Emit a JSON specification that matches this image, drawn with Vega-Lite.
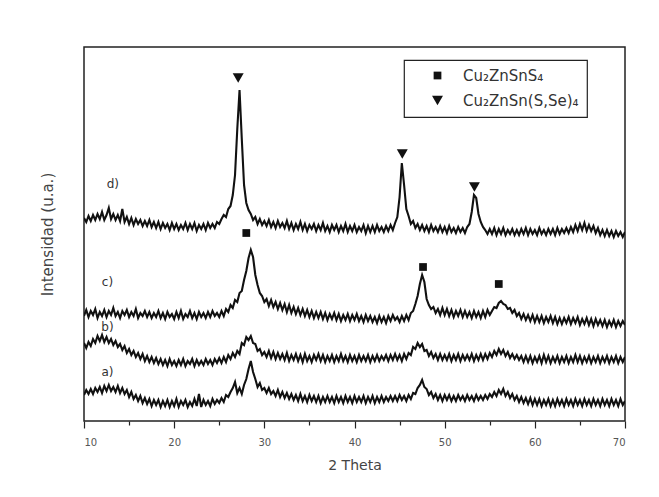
{
  "$schema": "https://vega.github.io/schema/vega-lite/v6.json",
  "width": 541,
  "height": 374,
  "autosize": {"type": "none"},
  "padding": {"left": 84, "top": 47, "right": 34, "bottom": 76},
  "background": "white",
  "datasets": {
    "xrd": [
      {"x":10,"a":26,"b":78,"c":105,"d":203},{"x":10.25,"a":31,"b":73,"c":111,"d":199},{"x":10.5,"a":27,"b":79,"c":104,"d":205},{"x":10.75,"a":32,"b":75,"c":110,"d":200},
      {"x":11,"a":27,"b":82,"c":106,"d":206},{"x":11.25,"a":33,"b":78,"c":112,"d":201},{"x":11.5,"a":29,"b":85,"c":103,"d":207},{"x":11.75,"a":34,"b":80,"c":109,"d":202},
      {"x":12,"a":28,"b":86,"c":105,"d":209},{"x":12.25,"a":35,"b":79,"c":111,"d":201},{"x":12.5,"a":30,"b":84,"c":104,"d":206},{"x":12.75,"a":36,"b":78,"c":110,"d":213},
      {"x":13,"a":30,"b":82,"c":106,"d":202},{"x":13.25,"a":34,"b":76,"c":113,"d":207},{"x":13.5,"a":29,"b":80,"c":105,"d":201},{"x":13.75,"a":35,"b":74,"c":109,"d":206},
      {"x":14,"a":28,"b":77,"c":103,"d":200},{"x":14.25,"a":33,"b":71,"c":110,"d":212},{"x":14.5,"a":27,"b":75,"c":106,"d":199},{"x":14.75,"a":31,"b":68,"c":111,"d":204},
      {"x":15,"a":24,"b":72,"c":104,"d":197},{"x":15.25,"a":29,"b":66,"c":109,"d":203},{"x":15.5,"a":22,"b":70,"c":105,"d":196},{"x":15.75,"a":26,"b":64,"c":112,"d":202},
      {"x":16,"a":20,"b":68,"c":103,"d":197},{"x":16.25,"a":25,"b":62,"c":108,"d":201},{"x":16.5,"a":18,"b":67,"c":105,"d":195},{"x":16.75,"a":23,"b":60,"c":110,"d":200},
      {"x":17,"a":17,"b":65,"c":104,"d":195},{"x":17.25,"a":22,"b":59,"c":109,"d":201},{"x":17.5,"a":15,"b":64,"c":103,"d":194},{"x":17.75,"a":21,"b":58,"c":108,"d":199},
      {"x":18,"a":16,"b":63,"c":104,"d":193},{"x":18.25,"a":21,"b":57,"c":110,"d":199},{"x":18.5,"a":14,"b":62,"c":103,"d":192},{"x":18.75,"a":20,"b":56,"c":108,"d":198},
      {"x":19,"a":15,"b":61,"c":102,"d":193},{"x":19.25,"a":21,"b":55,"c":109,"d":197},{"x":19.5,"a":14,"b":62,"c":104,"d":191},{"x":19.75,"a":20,"b":56,"c":107,"d":198},
      {"x":20,"a":15,"b":60,"c":102,"d":192},{"x":20.25,"a":22,"b":55,"c":109,"d":197},{"x":20.5,"a":14,"b":61,"c":103,"d":191},{"x":20.75,"a":20,"b":56,"c":110,"d":196},
      {"x":21,"a":16,"b":62,"c":102,"d":192},{"x":21.25,"a":21,"b":55,"c":107,"d":198},{"x":21.5,"a":14,"b":60,"c":104,"d":191},{"x":21.75,"a":19,"b":57,"c":110,"d":197},
      {"x":22,"a":15,"b":62,"c":103,"d":192},{"x":22.25,"a":22,"b":55,"c":108,"d":198},{"x":22.5,"a":15,"b":61,"c":102,"d":190},{"x":22.75,"a":27,"b":56,"c":109,"d":196},
      {"x":23,"a":14,"b":60,"c":104,"d":192},{"x":23.25,"a":21,"b":56,"c":108,"d":197},{"x":23.5,"a":16,"b":62,"c":103,"d":191},{"x":23.75,"a":20,"b":57,"c":109,"d":198},
      {"x":24,"a":15,"b":61,"c":104,"d":193},{"x":24.25,"a":22,"b":56,"c":110,"d":197},{"x":24.5,"a":17,"b":62,"c":105,"d":193},{"x":24.75,"a":21,"b":58,"c":108,"d":199},
      {"x":25,"a":18,"b":63,"c":104,"d":197},{"x":25.25,"a":23,"b":58,"c":110,"d":202},{"x":25.5,"a":19,"b":64,"c":105,"d":206},{"x":25.75,"a":26,"b":59,"c":112,"d":204},
      {"x":26,"a":24,"b":66,"c":109,"d":212},{"x":26.25,"a":29,"b":62,"c":116,"d":215},{"x":26.5,"a":33,"b":68,"c":113,"d":226},{"x":26.75,"a":39,"b":64,"c":121,"d":246},
      {"x":27,"a":28,"b":70,"c":119,"d":292},{"x":27.25,"a":33,"b":67,"c":128,"d":331},{"x":27.5,"a":27,"b":78,"c":130,"d":282},{"x":27.75,"a":36,"b":76,"c":141,"d":236},
      {"x":28,"a":42,"b":84,"c":150,"d":218},{"x":28.25,"a":52,"b":81,"c":163,"d":211},{"x":28.5,"a":60,"b":85,"c":171,"d":207},{"x":28.75,"a":49,"b":78,"c":164,"d":201},
      {"x":29,"a":42,"b":77,"c":146,"d":204},{"x":29.25,"a":34,"b":70,"c":136,"d":197},{"x":29.5,"a":38,"b":72,"c":128,"d":202},{"x":29.75,"a":31,"b":66,"c":125,"d":196},
      {"x":30,"a":33,"b":69,"c":119,"d":200},{"x":30.25,"a":28,"b":64,"c":122,"d":195},{"x":30.5,"a":33,"b":70,"c":115,"d":201},{"x":30.75,"a":27,"b":63,"c":121,"d":194},
      {"x":31,"a":30,"b":69,"c":114,"d":199},{"x":31.25,"a":25,"b":62,"c":119,"d":193},{"x":31.5,"a":31,"b":68,"c":112,"d":200},{"x":31.75,"a":24,"b":62,"c":118,"d":194},
      {"x":32,"a":29,"b":67,"c":111,"d":198},{"x":32.25,"a":23,"b":61,"c":117,"d":193},{"x":32.5,"a":28,"b":68,"c":109,"d":200},{"x":32.75,"a":22,"b":60,"c":116,"d":192},
      {"x":33,"a":27,"b":66,"c":108,"d":198},{"x":33.25,"a":21,"b":61,"c":114,"d":191},{"x":33.5,"a":26,"b":67,"c":107,"d":197},{"x":33.75,"a":20,"b":60,"c":113,"d":192},
      {"x":34,"a":27,"b":66,"c":106,"d":199},{"x":34.25,"a":20,"b":59,"c":112,"d":191},{"x":34.5,"a":25,"b":67,"c":105,"d":197},{"x":34.75,"a":19,"b":60,"c":111,"d":190},
      {"x":35,"a":26,"b":65,"c":104,"d":196},{"x":35.25,"a":20,"b":59,"c":110,"d":192},{"x":35.5,"a":25,"b":66,"c":103,"d":197},{"x":35.75,"a":19,"b":61,"c":109,"d":190},
      {"x":36,"a":25,"b":67,"c":103,"d":196},{"x":36.25,"a":18,"b":60,"c":109,"d":191},{"x":36.5,"a":24,"b":66,"c":102,"d":198},{"x":36.75,"a":19,"b":59,"c":108,"d":190},
      {"x":37,"a":25,"b":65,"c":101,"d":195},{"x":37.25,"a":19,"b":60,"c":107,"d":189},{"x":37.5,"a":24,"b":66,"c":102,"d":196},{"x":37.75,"a":18,"b":59,"c":108,"d":191},
      {"x":38,"a":25,"b":65,"c":101,"d":196},{"x":38.25,"a":19,"b":60,"c":107,"d":189},{"x":38.5,"a":24,"b":67,"c":100,"d":195},{"x":38.75,"a":18,"b":60,"c":106,"d":190},
      {"x":39,"a":25,"b":65,"c":101,"d":197},{"x":39.25,"a":19,"b":59,"c":107,"d":189},{"x":39.5,"a":24,"b":66,"c":100,"d":195},{"x":39.75,"a":18,"b":60,"c":106,"d":190},
      {"x":40,"a":25,"b":65,"c":101,"d":196},{"x":40.25,"a":19,"b":59,"c":107,"d":189},{"x":40.5,"a":24,"b":66,"c":100,"d":194},{"x":40.75,"a":19,"b":60,"c":105,"d":190},
      {"x":41,"a":25,"b":65,"c":99,"d":196},{"x":41.25,"a":18,"b":60,"c":106,"d":188},{"x":41.5,"a":24,"b":66,"c":100,"d":195},{"x":41.75,"a":19,"b":59,"c":105,"d":189},
      {"x":42,"a":25,"b":65,"c":99,"d":195},{"x":42.25,"a":18,"b":60,"c":104,"d":189},{"x":42.5,"a":24,"b":66,"c":98,"d":196},{"x":42.75,"a":19,"b":60,"c":105,"d":190},
      {"x":43,"a":25,"b":65,"c":99,"d":194},{"x":43.25,"a":19,"b":61,"c":104,"d":189},{"x":43.5,"a":24,"b":66,"c":98,"d":195},{"x":43.75,"a":20,"b":60,"c":105,"d":190},
      {"x":44,"a":25,"b":66,"c":100,"d":196},{"x":44.25,"a":20,"b":61,"c":106,"d":191},{"x":44.5,"a":25,"b":67,"c":101,"d":198},{"x":44.75,"a":20,"b":61,"c":104,"d":204},
      {"x":45,"a":26,"b":66,"c":99,"d":224},{"x":45.25,"a":21,"b":60,"c":105,"d":258},{"x":45.5,"a":25,"b":67,"c":100,"d":236},{"x":45.75,"a":20,"b":62,"c":106,"d":212},
      {"x":46,"a":26,"b":68,"c":101,"d":205},{"x":46.25,"a":22,"b":66,"c":108,"d":197},{"x":46.5,"a":28,"b":74,"c":110,"d":200},{"x":46.75,"a":27,"b":72,"c":117,"d":193},
      {"x":47,"a":33,"b":78,"c":125,"d":197},{"x":47.25,"a":36,"b":74,"c":137,"d":191},{"x":47.5,"a":41,"b":77,"c":146,"d":196},{"x":47.75,"a":34,"b":70,"c":139,"d":190},
      {"x":48,"a":32,"b":71,"c":122,"d":195},{"x":48.25,"a":26,"b":65,"c":116,"d":189},{"x":48.5,"a":29,"b":69,"c":112,"d":196},{"x":48.75,"a":23,"b":63,"c":114,"d":190},
      {"x":49,"a":27,"b":67,"c":108,"d":194},{"x":49.25,"a":21,"b":61,"c":112,"d":189},{"x":49.5,"a":26,"b":67,"c":106,"d":195},{"x":49.75,"a":20,"b":61,"c":113,"d":189},
      {"x":50,"a":26,"b":66,"c":106,"d":194},{"x":50.25,"a":21,"b":61,"c":112,"d":188},{"x":50.5,"a":26,"b":67,"c":105,"d":195},{"x":50.75,"a":20,"b":60,"c":111,"d":189},
      {"x":51,"a":25,"b":66,"c":104,"d":193},{"x":51.25,"a":20,"b":61,"c":110,"d":188},{"x":51.5,"a":26,"b":67,"c":105,"d":194},{"x":51.75,"a":21,"b":60,"c":111,"d":189},
      {"x":52,"a":25,"b":66,"c":104,"d":193},{"x":52.25,"a":20,"b":61,"c":110,"d":188},{"x":52.5,"a":26,"b":66,"c":104,"d":194},{"x":52.75,"a":21,"b":61,"c":109,"d":197},
      {"x":53,"a":25,"b":67,"c":103,"d":209},{"x":53.25,"a":20,"b":60,"c":110,"d":226},{"x":53.5,"a":26,"b":66,"c":104,"d":223},{"x":53.75,"a":21,"b":61,"c":109,"d":207},
      {"x":54,"a":25,"b":67,"c":103,"d":199},{"x":54.25,"a":21,"b":61,"c":110,"d":194},{"x":54.5,"a":26,"b":67,"c":104,"d":191},{"x":54.75,"a":22,"b":62,"c":111,"d":187},
      {"x":55,"a":27,"b":68,"c":106,"d":192},{"x":55.25,"a":24,"b":64,"c":110,"d":187},{"x":55.5,"a":29,"b":70,"c":114,"d":193},{"x":55.75,"a":25,"b":66,"c":113,"d":186},
      {"x":56,"a":31,"b":72,"c":118,"d":192},{"x":56.25,"a":27,"b":67,"c":120,"d":187},{"x":56.5,"a":32,"b":71,"c":117,"d":193},{"x":56.75,"a":25,"b":65,"c":116,"d":186},
      {"x":57,"a":29,"b":69,"c":112,"d":191},{"x":57.25,"a":23,"b":63,"c":113,"d":187},{"x":57.5,"a":27,"b":67,"c":108,"d":192},{"x":57.75,"a":21,"b":62,"c":111,"d":186},
      {"x":58,"a":25,"b":66,"c":105,"d":191},{"x":58.25,"a":19,"b":61,"c":108,"d":186},{"x":58.5,"a":24,"b":65,"c":102,"d":192},{"x":58.75,"a":18,"b":59,"c":107,"d":187},
      {"x":59,"a":23,"b":65,"c":101,"d":193},{"x":59.25,"a":17,"b":59,"c":106,"d":186},{"x":59.5,"a":23,"b":65,"c":100,"d":192},{"x":59.75,"a":16,"b":58,"c":106,"d":187},
      {"x":60,"a":22,"b":64,"c":99,"d":191},{"x":60.25,"a":16,"b":59,"c":105,"d":186},{"x":60.5,"a":22,"b":65,"c":99,"d":193},{"x":60.75,"a":15,"b":58,"c":105,"d":187},
      {"x":61,"a":21,"b":66,"c":98,"d":191},{"x":61.25,"a":16,"b":59,"c":104,"d":186},{"x":61.5,"a":22,"b":65,"c":99,"d":192},{"x":61.75,"a":15,"b":58,"c":105,"d":187},
      {"x":62,"a":21,"b":64,"c":98,"d":192},{"x":62.25,"a":15,"b":59,"c":104,"d":186},{"x":62.5,"a":22,"b":65,"c":97,"d":193},{"x":62.75,"a":16,"b":58,"c":103,"d":187},
      {"x":63,"a":21,"b":64,"c":97,"d":192},{"x":63.25,"a":15,"b":59,"c":103,"d":188},{"x":63.5,"a":22,"b":65,"c":98,"d":193},{"x":63.75,"a":16,"b":58,"c":104,"d":188},
      {"x":64,"a":21,"b":64,"c":97,"d":194},{"x":64.25,"a":15,"b":59,"c":103,"d":189},{"x":64.5,"a":22,"b":66,"c":98,"d":196},{"x":64.75,"a":16,"b":59,"c":104,"d":190},
      {"x":65,"a":21,"b":65,"c":96,"d":197},{"x":65.25,"a":15,"b":58,"c":102,"d":191},{"x":65.5,"a":22,"b":64,"c":97,"d":198},{"x":65.75,"a":16,"b":59,"c":103,"d":190},
      {"x":66,"a":21,"b":65,"c":96,"d":196},{"x":66.25,"a":15,"b":58,"c":102,"d":190},{"x":66.5,"a":22,"b":64,"c":95,"d":195},{"x":66.75,"a":16,"b":59,"c":102,"d":188},
      {"x":67,"a":21,"b":65,"c":96,"d":193},{"x":67.25,"a":15,"b":58,"c":101,"d":186},{"x":67.5,"a":22,"b":64,"c":95,"d":191},{"x":67.75,"a":16,"b":59,"c":101,"d":185},
      {"x":68,"a":21,"b":65,"c":94,"d":191},{"x":68.25,"a":15,"b":58,"c":100,"d":185},{"x":68.5,"a":22,"b":64,"c":95,"d":190},{"x":68.75,"a":16,"b":59,"c":101,"d":184},
      {"x":69,"a":21,"b":65,"c":94,"d":190},{"x":69.25,"a":15,"b":58,"c":100,"d":185},{"x":69.5,"a":22,"b":64,"c":95,"d":189},{"x":69.75,"a":16,"b":59,"c":100,"d":184},
      {"x":70,"a":20,"b":64,"c":96,"d":189}
    ],
    "peaks": [
      {"fase":"Cu₂ZnSnS₄","x":28.0,"y":188},
      {"fase":"Cu₂ZnSnS₄","x":47.6,"y":154},
      {"fase":"Cu₂ZnSnS₄","x":56.0,"y":137},
      {"fase":"Cu₂ZnSn(S,Se)₄","x":27.1,"y":343},
      {"fase":"Cu₂ZnSn(S,Se)₄","x":45.3,"y":267},
      {"fase":"Cu₂ZnSn(S,Se)₄","x":53.3,"y":234}
    ],
    "etiquetas": [
      {"t":"a)","x":12.6,"y":49},
      {"t":"b)","x":12.6,"y":94},
      {"t":"c)","x":12.6,"y":139},
      {"t":"d)","x":13.2,"y":237}
    ]
  },
  "layer": [
    {
      "data": {"name": "xrd"},
      "transform": [{"fold": ["a","b","c","d"], "as": ["serie","I"]}],
      "mark": {"type": "line", "color": "#111", "strokeWidth": 2.1, "clip": true},
      "encoding": {
        "x": {"field": "x", "type": "quantitative", "scale": {"domain": [10,70], "nice": false},
              "axis": {"title": "2 Theta", "values": [10,15,20,25,30,35,40,45,50,55,60,65,70],
                       "labelExpr": "datum.value % 10 === 0 ? datum.label : ''",
                       "tickSize": {"condition": {"test": "datum.value % 10 === 0", "value": 7}, "value": 4},
                       "grid": false, "domain": false, "tickColor": "#222", "tickWidth": 1.2,
                       "labelFontSize": 10, "labelColor": "#555", "labelPadding": 9, "labelFont": "DejaVu Sans",
                       "titleFontSize": 14, "titleColor": "#444", "titleFont": "DejaVu Sans", "titleFontWeight": "normal", "titlePadding": 11}},
        "y": {"field": "I", "type": "quantitative", "scale": {"domain": [0,374], "nice": false, "zero": false},
              "axis": {"title": "Intensidad (u.a.)", "labels": false, "ticks": false, "domain": false, "grid": false,
                       "titleFontSize": 15, "titleColor": "#444", "titleFont": "DejaVu Sans", "titleFontWeight": "normal", "titlePadding": 29}},
        "detail": {"field": "serie"}
      }
    },
    {
      "data": {"name": "peaks"},
      "mark": {"type": "point", "filled": true, "color": "#111", "opacity": 1},
      "encoding": {
        "x": {"field": "x", "type": "quantitative"},
        "y": {"field": "y", "type": "quantitative"},
        "shape": {"field": "fase", "type": "nominal",
                  "scale": {"domain": ["Cu₂ZnSnS₄","Cu₂ZnSn(S,Se)₄"], "range": ["square","triangle-down"]},
                  "legend": {"title": null}},
        "size": {"field": "fase", "type": "nominal",
                 "scale": {"domain": ["Cu₂ZnSnS₄","Cu₂ZnSn(S,Se)₄"], "range": [60,120]},
                 "legend": {"title": null}}
      }
    },
    {
      "data": {"name": "etiquetas"},
      "mark": {"type": "text", "fontSize": 12, "font": "DejaVu Sans", "color": "#333", "align": "center", "baseline": "middle"},
      "encoding": {
        "x": {"field": "x", "type": "quantitative"},
        "y": {"field": "y", "type": "quantitative"},
        "text": {"field": "t"}
      }
    }
  ],
  "config": {
    "view": {"stroke": "#222", "strokeWidth": 1.5},
    "legend": {
      "orient": "none", "legendX": 320, "legendY": 13,
      "strokeColor": "#222", "strokeWidth": 1.2, "padding": 8,
      "labelFontSize": 15, "labelFont": "DejaVu Sans", "labelColor": "#333",
      "labelOffset": 18, "rowPadding": 9, "symbolOffset": 18,
      "symbolFillColor": "#111", "symbolStrokeColor": "#111", "symbolStrokeWidth": 0
    }
  }
}
